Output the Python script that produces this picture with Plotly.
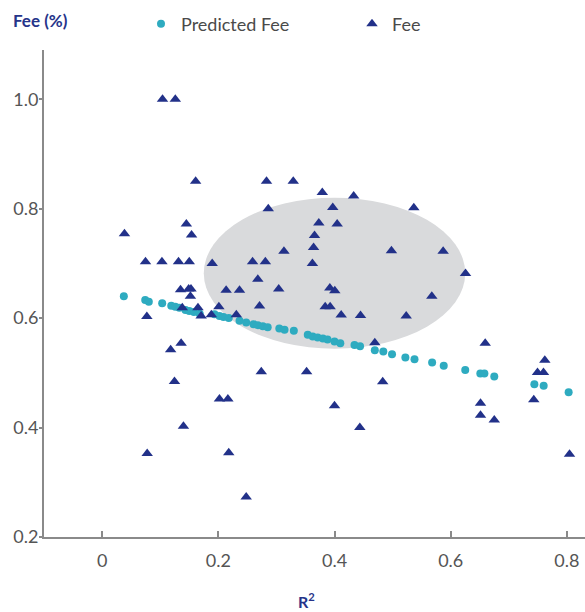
import plotly.graph_objects as go

# Fee (triangles)
fee_r2 = [0.104, 0.126, 0.0385, 0.161, 0.283, 0.329, 0.286,
          0.145, 0.154, 0.0747, 0.103, 0.1315, 0.150, 0.1895, 0.259, 0.281, 0.313,
          0.268, 0.135, 0.149, 0.153, 0.152, 0.2135, 0.2365, 0.304,
          0.138, 0.165, 0.201, 0.271, 0.077, 0.1705, 0.188, 0.231,
          0.118, 0.136, 0.274, 0.1246, 0.202, 0.2165, 0.140, 0.0776, 0.218, 0.248,
          0.379, 0.433, 0.397, 0.5365, 0.373, 0.4046, 0.3656, 0.364, 0.498, 0.587,
          0.362, 0.6255, 0.392, 0.4005, 0.5675, 0.384, 0.3925, 0.4115, 0.4448, 0.5234,
          0.4694, 0.6594, 0.352, 0.483, 0.400, 0.4436, 0.762, 0.7494, 0.7597,
          0.6513, 0.6513, 0.675, 0.743, 0.8045]
fee_val = [1.0, 1.0, 0.754, 0.85, 0.85, 0.85, 0.80,
           0.772, 0.752, 0.703, 0.703, 0.703, 0.703, 0.700, 0.703, 0.703, 0.722,
           0.671, 0.652, 0.653, 0.653, 0.640, 0.651, 0.651, 0.653,
           0.619, 0.619, 0.621, 0.622, 0.603, 0.604, 0.606, 0.606,
           0.542, 0.554, 0.502, 0.484, 0.452, 0.452, 0.4026, 0.3525, 0.354, 0.273,
           0.8296, 0.823, 0.802, 0.8016, 0.774, 0.772, 0.751, 0.729, 0.723, 0.722,
           0.700, 0.6815, 0.655, 0.650, 0.640, 0.6207, 0.6207, 0.6055, 0.605, 0.604,
           0.555, 0.554, 0.502, 0.4835, 0.440, 0.400, 0.523, 0.5006, 0.5006,
           0.4446, 0.4227, 0.414, 0.451, 0.351]

# Predicted Fee (circles)
pred_r2 = [0.0374, 0.0742, 0.0804, 0.1034, 0.119, 0.126, 0.133,
           0.1435, 0.150, 0.158, 0.168, 0.1935, 0.2021, 0.209, 0.218,
           0.2365, 0.248, 0.2606, 0.268, 0.2766, 0.285, 0.305, 0.314, 0.330,
           0.354, 0.3625, 0.371, 0.380, 0.388, 0.400, 0.41, 0.4344, 0.444,
           0.4694, 0.484, 0.499, 0.522, 0.5377, 0.568, 0.588, 0.625,
           0.651, 0.658, 0.675, 0.744, 0.760, 0.803]
pred_val = [0.640, 0.633, 0.630, 0.627, 0.6225, 0.6207, 0.619,
            0.615, 0.613, 0.611, 0.608, 0.607, 0.604, 0.602, 0.600,
            0.595, 0.592, 0.589, 0.587, 0.585, 0.5835, 0.581, 0.5786, 0.5768,
            0.5695, 0.5664, 0.5645, 0.5627, 0.561, 0.5572, 0.5543, 0.551, 0.5488,
            0.5415, 0.539, 0.534, 0.528, 0.525, 0.519, 0.513, 0.505,
            0.4987, 0.4987, 0.4932, 0.4793, 0.4762, 0.4647]

x_tickvals = [0, 0.2, 0.4, 0.6, 0.8]
x_ticktext = ["0", "0.2", "0.4", "0.6", "0.8"]
y_tickvals = [0.2, 0.4, 0.6, 0.8, 1.0]
y_ticktext = ["0.2", "0.4", "0.6", "0.8", "1.0"]

FONT = "Lato"
BLUE = "#26348a"
W = 600          # figure slightly wider than the window; the right part is cropped like the original
PW = W - 44      # plot width in px

fig = go.Figure()
fig.add_trace(go.Scatter(x=pred_r2, y=pred_val, mode="markers", name="Predicted Fee",
                         marker=dict(symbol="circle", size=8, color="#2eabc0")))
fig.add_trace(go.Scatter(x=fee_r2, y=fee_val, mode="markers", name="Fee",
                         marker=dict(symbol="triangle-up", size=10, color="#223189")))

fig.add_shape(type="circle", xref="x", yref="y", x0=0.175, x1=0.625, y0=0.544, y1=0.82,
              fillcolor="#d9dadc", line=dict(width=0), layer="below")

fig.update_layout(
    width=W, height=612,
    margin=dict(l=44, r=0, t=50, b=75, autoexpand=False),
    plot_bgcolor="white", paper_bgcolor="white",
    font=dict(family=FONT, size=18, color="#555555"),
    hovermode=False,
    showlegend=True,
    legend=dict(orientation="h", xref="container", yref="container",
                x=141 / W, y=1 - 24 / 612, xanchor="left", yanchor="middle",
                font=dict(family=FONT, size=18, color="#4a4a4a"),
                entrywidth=166, itemwidth=30, bgcolor="rgba(0,0,0,0)"),
    xaxis=dict(range=[-0.1, -0.1 + PW / 581.0], tickvals=x_tickvals, ticktext=x_ticktext,
               automargin=False,
               showgrid=False, zeroline=False, showline=True, linecolor="#8a8a8a", linewidth=2,
               ticks="inside", ticklen=6, tickwidth=1.5, tickcolor="#8a8a8a",
               ticklabelstandoff=6, tickfont=dict(size=18, color="#555555")),
    yaxis=dict(range=[0.2, 1.09], tickvals=y_tickvals, ticktext=y_ticktext, automargin=False,
               showgrid=False, zeroline=False, showline=True, linecolor="#8a8a8a", linewidth=2,
               ticks="outside", ticklen=3, tickwidth=1.5, tickcolor="#8a8a8a",
               ticklabelstandoff=-3, tickfont=dict(size=18, color="#555555")),
    annotations=[
        dict(text="<b>Fee (%)</b>", xref="paper", yref="paper", x=(11 - 44) / PW,
             y=1 + (50 - 20) / 487,
             xanchor="left", yanchor="middle", showarrow=False,
             font=dict(family=FONT, size=17, color=BLUE)),
        dict(text="<b>R<sup>2</sup></b>", xref="paper", yref="paper", x=(306 - 44) / PW,
             y=-(600 - 537) / 487, xanchor="center", yanchor="middle", showarrow=False,
             font=dict(family=FONT, size=16, color=BLUE)),
    ],
)

fig.write_html("out.html", config={"displayModeBar": False},
               post_script="document.body.style.margin='0';document.body.style.overflow='hidden';"
                           "document.documentElement.style.overflow='hidden';")
